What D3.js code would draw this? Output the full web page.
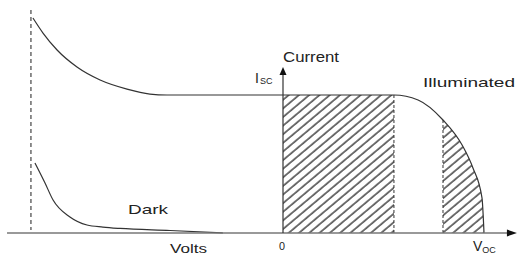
<!DOCTYPE html>
<html>
<head>
<meta charset="utf-8">
<script src="https://cdn.jsdelivr.net/npm/d3@7"></script>
<style>
  body { margin: 0; background: #fff; }
  svg { display: block; }
  text { font-family: "Liberation Sans", Arial, sans-serif; fill: #222; }
</style>
</head>
<body>
<svg id="chart" width="517" height="257"></svg>
<script>
// illuminated I-V curve (normalised: V / Voc, I / Isc)
const illumV = [-1.244, -1.194, -1.124, -1.025, -0.91, -0.776, -0.662, -0.577, 0.552, 0.672, 0.796, 0.891, 0.945, 0.99, 1.0];
const illumI = [1.558, 1.449, 1.326, 1.203, 1.109, 1.043, 1.007, 1.0, 1.0, 0.964, 0.819, 0.638, 0.471, 0.254, 0];
// dark curve
const darkV = [-1.234, -1.184, -1.144, -1.06, -0.975, -0.896, -0.811, -0.562, -0.299];
const darkI = [0.507, 0.362, 0.239, 0.116, 0.058, 0.043, 0.033, 0.018, 0];
// hatched bands [from, to] in V
const bandFrom = [0, 0.796];
const bandTo = [0.552, 1.0];
const vBreak = -1.254; // dashed reverse-breakdown marker
const iscVal = 1;

const svg = d3.select("#chart");
const x = d3.scaleLinear().domain([0, 1]).range([283, 484]);
const y = d3.scaleLinear().domain([0, 1]).range([233, 95]);

const illum = illumV.map((v, i) => ({ v, c: illumI[i] }));
const dark = darkV.map((v, i) => ({ v, c: darkI[i] }));

const line = d3.line().x(d => x(d.v)).y(d => y(d.c)).curve(d3.curveMonotoneX);
const area = d3.area().x(d => x(d.v)).y0(y(0)).y1(d => y(d.c)).curve(d3.curveMonotoneX);

const defs = svg.append("defs");
const pat = defs.append("pattern")
  .attr("id", "hatch")
  .attr("patternUnits", "userSpaceOnUse")
  .attr("width", 6.6)
  .attr("height", 10)
  .attr("patternTransform", "rotate(50)");
pat.append("line")
  .attr("x1", 1).attr("y1", 0).attr("x2", 1).attr("y2", 10)
  .attr("stroke", "#1e1e1e").attr("stroke-width", 1.25);

defs.append("clipPath").attr("id", "under")
  .append("path").attr("d", area(illum));

// hatched bands
svg.append("g").attr("clip-path", "url(#under)")
  .selectAll("rect").data(bandFrom).join("rect")
  .attr("x", d => x(d))
  .attr("width", (d, i) => x(bandTo[i]) - x(d))
  .attr("y", y(1.01))
  .attr("height", y(0) - y(1.01))
  .attr("fill", "url(#hatch)");

// dashed edges of bands
const curveAt = v => {
  const i = illumV.indexOf(v);
  return i >= 0 ? illumI[i] : iscVal;
};
svg.append("line")
  .attr("x1", x(bandTo[0])).attr("x2", x(bandTo[0]))
  .attr("y1", y(0)).attr("y2", y(iscVal))
  .attr("stroke", "#333").attr("stroke-width", 1).attr("stroke-dasharray", "3,2");
svg.append("line")
  .attr("x1", x(bandFrom[1])).attr("x2", x(bandFrom[1]))
  .attr("y1", y(0)).attr("y2", y(curveAt(bandFrom[1])))
  .attr("stroke", "#333").attr("stroke-width", 1).attr("stroke-dasharray", "3,2");

// breakdown marker
svg.append("line")
  .attr("x1", x(vBreak)).attr("x2", x(vBreak))
  .attr("y1", y(1.616)).attr("y2", y(0.022))
  .attr("stroke", "#444").attr("stroke-width", 1.2).attr("stroke-dasharray", "4,3");

// curves
svg.append("path").attr("d", line(illum))
  .attr("fill", "none").attr("stroke", "#333").attr("stroke-width", 1.2);
svg.append("path").attr("d", line(dark))
  .attr("fill", "none").attr("stroke", "#333").attr("stroke-width", 1.2);

// axes
svg.append("line")
  .attr("x1", x(-1.373)).attr("x2", x(1.12))
  .attr("y1", y(0)).attr("y2", y(0))
  .attr("stroke", "#777").attr("stroke-width", 1.5);
svg.append("path")
  .attr("d", `M${x(1.164)},${y(0)} L${x(1.114)},${y(0) - 3.5} L${x(1.114)},${y(0) + 3.5} Z`)
  .attr("fill", "#111");
svg.append("line")
  .attr("x1", x(0)).attr("x2", x(0))
  .attr("y1", y(0)).attr("y2", y(1.16))
  .attr("stroke", "#333").attr("stroke-width", 1.2);
svg.append("path")
  .attr("d", `M${x(0)},${y(1.203)} L${x(0) - 3.5},${y(1.145)} L${x(0) + 3.5},${y(1.145)} Z`)
  .attr("fill", "#111");

// labels
const label = (t, px, py, size, len) =>
  svg.append("text").attr("x", px).attr("y", py)
    .attr("font-size", size)
    .attr("textLength", len).attr("lengthAdjust", "spacingAndGlyphs")
    .text(t);

label("Current", 283, 62, 14, 56);
label("Illuminated", 423, 87, 13, 92);
label("Dark", 128, 214, 13, 40);
label("Volts", 170, 253, 12, 37);
label("0", 279, 250, 10, 6);

const isc = svg.append("text").attr("x", 255).attr("y", 83).attr("font-size", 14);
isc.append("tspan").text("I");
isc.append("tspan").attr("font-size", 9).attr("dx", 1).attr("dy", 1).text("SC");

const voc = svg.append("text").attr("x", 473).attr("y", 251).attr("font-size", 14);
voc.append("tspan").text("V");
voc.append("tspan").attr("font-size", 9).attr("dy", 2).text("OC");
</script>
</body>
</html>
